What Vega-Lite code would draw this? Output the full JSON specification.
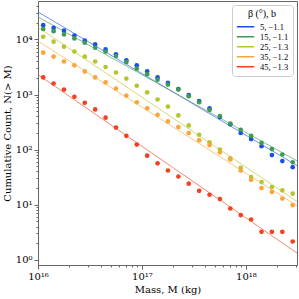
{
"$schema":"https://vega.github.io/schema/vega-lite/v6.json",
"width":259,"height":264,
"autosize":{"type":"none"},
"padding":{"left":38,"top":1,"right":2,"bottom":34},
"background":"white",
"config":{"view":{"stroke":"#666","strokeWidth":1},"font":"DejaVu Serif",
"axis":{"grid":false,"domainColor":"#666","tickColor":"#666","labelColor":"#000","titleColor":"#000","labelFontSize":10,"titleFontSize":10,"titleFontWeight":"normal","labelFont":"DejaVu Serif","titleFont":"DejaVu Serif"},
"legend":{"labelFont":"Liberation Serif","titleFont":"Liberation Serif"}},
"datasets":{
"fit":[
{"s":"5, −1.1","M":1e16,"N":31623},{"s":"5, −1.1","M":3.1e18,"N":51.3},
{"s":"15, −1.1","M":1e16,"N":25704},{"s":"15, −1.1","M":3.1e18,"N":62.3},
{"s":"25, −1.3","M":1e16,"N":16596},{"s":"25, −1.3","M":3.1e18,"N":11.4},
{"s":"35, −1.2","M":1e16,"N":9333},{"s":"35, −1.2","M":3.1e18,"N":9.57},
{"s":"45, −1.3","M":1e16,"N":2291},{"s":"45, −1.3","M":3.1e18,"N":1.32}
],
"pts":[
{"s":"5, −1.1","M":1.122e16,"N":18197},{"s":"5, −1.1","M":1.413e16,"N":16218},{"s":"5, −1.1","M":1.778e16,"N":14454},{"s":"5, −1.1","M":2.239e16,"N":11749},{"s":"5, −1.1","M":2.818e16,"N":9550},{"s":"5, −1.1","M":3.548e16,"N":8128},{"s":"5, −1.1","M":4.467e16,"N":6607},{"s":"5, −1.1","M":5.623e16,"N":5370},{"s":"5, −1.1","M":7.079e16,"N":4169},{"s":"5, −1.1","M":8.913e16,"N":3388},{"s":"5, −1.1","M":1.122e17,"N":2630},{"s":"5, −1.1","M":1.413e17,"N":2042},{"s":"5, −1.1","M":1.778e17,"N":1622},{"s":"5, −1.1","M":2.239e17,"N":1259},{"s":"5, −1.1","M":2.818e17,"N":977},{"s":"5, −1.1","M":3.548e17,"N":759},{"s":"5, −1.1","M":4.467e17,"N":562},{"s":"5, −1.1","M":5.623e17,"N":389},{"s":"5, −1.1","M":7.079e17,"N":288},{"s":"5, −1.1","M":8.913e17,"N":200},{"s":"5, −1.1","M":1.122e18,"N":155},{"s":"5, −1.1","M":1.413e18,"N":115},{"s":"5, −1.1","M":1.778e18,"N":79.4},{"s":"5, −1.1","M":2.239e18,"N":61.7},{"s":"5, −1.1","M":2.818e18,"N":47.9},
{"s":"15, −1.1","M":1.122e16,"N":15488},{"s":"15, −1.1","M":1.413e16,"N":14125},{"s":"15, −1.1","M":1.778e16,"N":12303},{"s":"15, −1.1","M":2.239e16,"N":10471},{"s":"15, −1.1","M":2.818e16,"N":8710},{"s":"15, −1.1","M":3.548e16,"N":7079},{"s":"15, −1.1","M":4.467e16,"N":6026},{"s":"15, −1.1","M":5.623e16,"N":5012},{"s":"15, −1.1","M":7.079e16,"N":3890},{"s":"15, −1.1","M":8.913e16,"N":2951},{"s":"15, −1.1","M":1.122e17,"N":2344},{"s":"15, −1.1","M":1.413e17,"N":1862},{"s":"15, −1.1","M":1.778e17,"N":1514},{"s":"15, −1.1","M":2.239e17,"N":1230},{"s":"15, −1.1","M":2.818e17,"N":933},{"s":"15, −1.1","M":3.548e17,"N":724},{"s":"15, −1.1","M":4.467e17,"N":525},{"s":"15, −1.1","M":5.623e17,"N":407},{"s":"15, −1.1","M":7.079e17,"N":295},{"s":"15, −1.1","M":8.913e17,"N":229},{"s":"15, −1.1","M":1.122e18,"N":178},{"s":"15, −1.1","M":1.413e18,"N":132},{"s":"15, −1.1","M":1.778e18,"N":102},{"s":"15, −1.1","M":2.239e18,"N":81.3},{"s":"15, −1.1","M":2.818e18,"N":58.9},
{"s":"25, −1.3","M":1.122e16,"N":11220},{"s":"25, −1.3","M":1.413e16,"N":9120},{"s":"25, −1.3","M":1.778e16,"N":7413},{"s":"25, −1.3","M":2.239e16,"N":6026},{"s":"25, −1.3","M":2.818e16,"N":4898},{"s":"25, −1.3","M":3.548e16,"N":3981},{"s":"25, −1.3","M":4.467e16,"N":3162},{"s":"25, −1.3","M":5.623e16,"N":2512},{"s":"25, −1.3","M":7.079e16,"N":1950},{"s":"25, −1.3","M":8.913e16,"N":1445},{"s":"25, −1.3","M":1.122e17,"N":1096},{"s":"25, −1.3","M":1.413e17,"N":813},{"s":"25, −1.3","M":1.778e17,"N":603},{"s":"25, −1.3","M":2.239e17,"N":417},{"s":"25, −1.3","M":2.818e17,"N":275},{"s":"25, −1.3","M":3.548e17,"N":186},{"s":"25, −1.3","M":4.467e17,"N":135},{"s":"25, −1.3","M":5.623e17,"N":100},{"s":"25, −1.3","M":7.079e17,"N":69.2},{"s":"25, −1.3","M":8.913e17,"N":46.8},{"s":"25, −1.3","M":1.122e18,"N":31.6},{"s":"25, −1.3","M":1.413e18,"N":25.7},{"s":"25, −1.3","M":1.778e18,"N":20.9},{"s":"25, −1.3","M":2.239e18,"N":18.2},{"s":"25, −1.3","M":2.818e18,"N":15.8},
{"s":"35, −1.2","M":1.122e16,"N":5754},{"s":"35, −1.2","M":1.413e16,"N":4898},{"s":"35, −1.2","M":1.778e16,"N":3981},{"s":"35, −1.2","M":2.239e16,"N":3388},{"s":"35, −1.2","M":2.818e16,"N":2630},{"s":"35, −1.2","M":3.548e16,"N":2042},{"s":"35, −1.2","M":4.467e16,"N":1660},{"s":"35, −1.2","M":5.623e16,"N":1288},{"s":"35, −1.2","M":7.079e16,"N":955},{"s":"35, −1.2","M":8.913e16,"N":724},{"s":"35, −1.2","M":1.122e17,"N":562},{"s":"35, −1.2","M":1.413e17,"N":427},{"s":"35, −1.2","M":1.778e17,"N":324},{"s":"35, −1.2","M":2.239e17,"N":257},{"s":"35, −1.2","M":2.818e17,"N":200},{"s":"35, −1.2","M":3.548e17,"N":148},{"s":"35, −1.2","M":4.467e17,"N":120},{"s":"35, −1.2","M":5.623e17,"N":89.1},{"s":"35, −1.2","M":7.079e17,"N":66.1},{"s":"35, −1.2","M":8.913e17,"N":41.7},{"s":"35, −1.2","M":1.122e18,"N":28.2},{"s":"35, −1.2","M":1.413e18,"N":20.0},{"s":"35, −1.2","M":1.778e18,"N":17.0},{"s":"35, −1.2","M":2.239e18,"N":12.9},{"s":"35, −1.2","M":2.818e18,"N":9.77},
{"s":"45, −1.3","M":1.122e16,"N":2042},{"s":"45, −1.3","M":1.413e16,"N":1585},{"s":"45, −1.3","M":1.778e16,"N":1230},{"s":"45, −1.3","M":2.239e16,"N":912},{"s":"45, −1.3","M":2.818e16,"N":708},{"s":"45, −1.3","M":3.548e16,"N":537},{"s":"45, −1.3","M":4.467e16,"N":380},{"s":"45, −1.3","M":5.623e16,"N":251},{"s":"45, −1.3","M":7.079e16,"N":178},{"s":"45, −1.3","M":8.913e16,"N":123},{"s":"45, −1.3","M":1.122e17,"N":77.6},{"s":"45, −1.3","M":1.413e17,"N":56.2},{"s":"45, −1.3","M":1.778e17,"N":41.7},{"s":"45, −1.3","M":2.239e17,"N":32.4},{"s":"45, −1.3","M":2.818e17,"N":24.0},{"s":"45, −1.3","M":3.548e17,"N":17.8},{"s":"45, −1.3","M":4.467e17,"N":15.1},{"s":"45, −1.3","M":5.623e17,"N":12.6},{"s":"45, −1.3","M":7.079e17,"N":8.51},{"s":"45, −1.3","M":8.913e17,"N":6.46},{"s":"45, −1.3","M":1.122e18,"N":5.37},{"s":"45, −1.3","M":1.413e18,"N":3.2},{"s":"45, −1.3","M":1.778e18,"N":3.2},{"s":"45, −1.3","M":2.239e18,"N":3.2},{"s":"45, −1.3","M":2.818e18,"N":2.14}
]},
"layer":[
{"data":{"name":"fit"},
"mark":{"type":"line","strokeWidth":0.9,"opacity":0.7,"clip":true},
"encoding":{
"x":{"field":"M","type":"quantitative","scale":{"type":"log","domain":[1e16,3.1e18],"nice":false},
"axis":{"title":"Mass, M (kg)","titlePadding":3,"values":[1e16,2e16,3e16,4e16,5e16,6e16,7e16,8e16,9e16,1e17,2e17,3e17,4e17,5e17,6e17,7e17,8e17,9e17,1e18,2e18,3e18],
"labelExpr":"datum.value==1e16?'10¹⁶':datum.value==1e17?'10¹⁷':datum.value==1e18?'10¹⁸':''",
"tickSize":{"condition":{"test":"indexof([1e16,1e17,1e18],datum.value)>=0","value":4},"value":2},"labelPadding":2,"labelFlush":false}},
"y":{"field":"N","type":"quantitative","scale":{"type":"log","domain":[0.8,50000],"nice":false},
"axis":{"title":"Cumulative Count, N(> M)","titlePadding":3,"values":[1,2,3,4,5,6,7,8,9,10,20,30,40,50,60,70,80,90,100,200,300,400,500,600,700,800,900,1000,2000,3000,4000,5000,6000,7000,8000,9000,10000,20000,30000,40000],
"labelExpr":"datum.value==1?'10⁰':datum.value==10?'10¹':datum.value==100?'10²':datum.value==1000?'10³':datum.value==10000?'10⁴':''",
"tickSize":{"condition":{"test":"indexof([1,10,100,1000,10000],datum.value)>=0","value":4},"value":2},"labelPadding":2}},
"color":{"field":"s","type":"nominal","sort":null,
"scale":{"domain":["5, −1.1","15, −1.1","25, −1.3","35, −1.2","45, −1.3"],"range":["#1b4fe8","#3f9a52","#b6c52c","#f9a53a","#f4401f"]},
"legend":{"title":"β (°),  b","orient":"top-right","offset":4,"symbolType":"stroke","symbolSize":300,"symbolStrokeWidth":1.5,"clipHeight":9.5,"fillColor":"white","strokeColor":"#ccc","cornerRadius":3,"padding":4,"titleFontSize":10,"titleFontWeight":"normal","titleAlign":"center","titleAnchor":"middle","titlePadding":3,"labelFontSize":8.5,"labelOffset":5,"rowPadding":0,"symbolOpacity":1}}}},
{"data":{"name":"pts"},
"mark":{"type":"circle","size":22,"opacity":1},
"encoding":{
"x":{"field":"M","type":"quantitative"},
"y":{"field":"N","type":"quantitative"},
"color":{"field":"s","type":"nominal","legend":null}}}
]
}
